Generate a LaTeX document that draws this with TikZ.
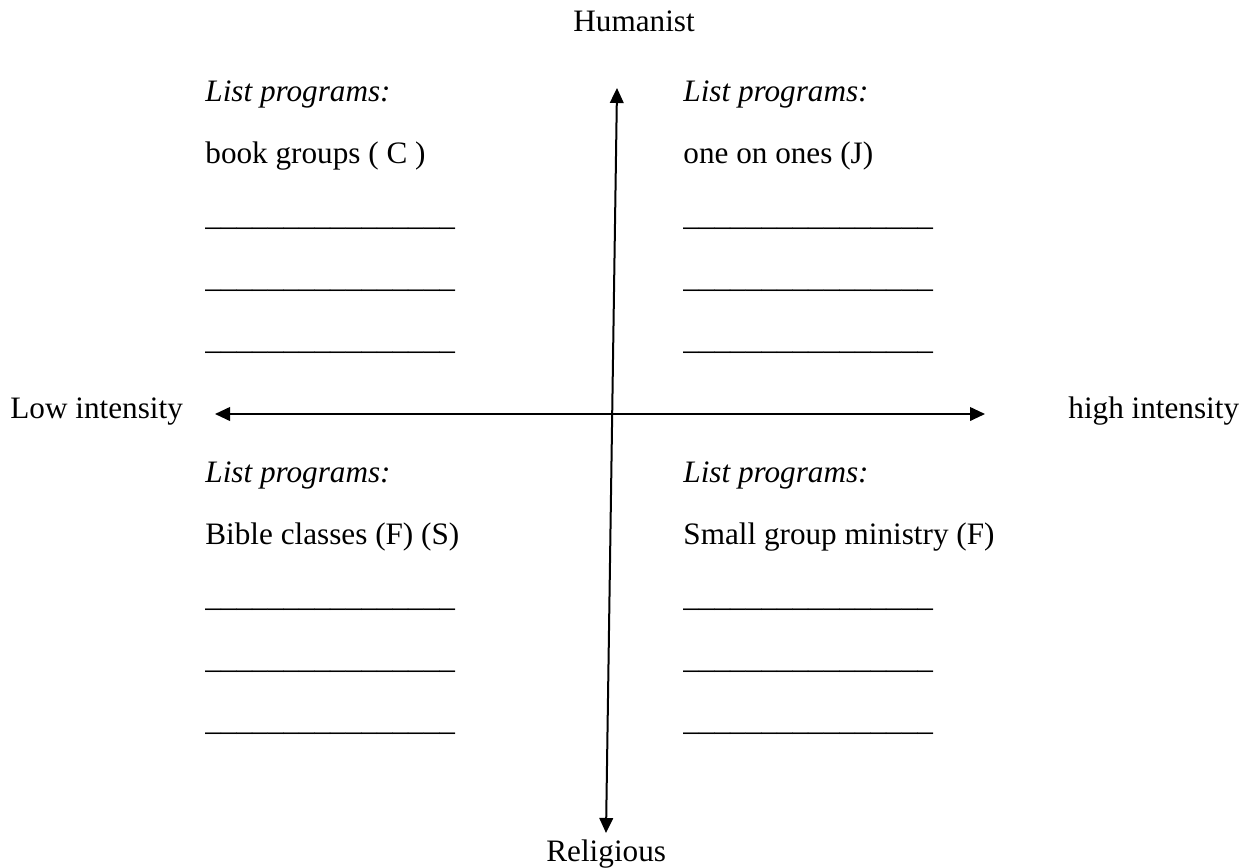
\documentclass[tikz,border=0pt]{standalone}
\usepackage{fontspec}
\setmainfont{Liberation Serif}
\usetikzlibrary{arrows.meta}
\begin{document}
\begin{tikzpicture}[x=0.5pt,y=-0.5pt,
  txt/.style={anchor=base west,inner sep=0pt,font=\fontsize{15.6}{18}\selectfont},
  axis/.style={line width=1pt,{Triangle[length=7.5pt,width=6.8pt]}-{Triangle[length=7.5pt,width=6.8pt]}}]
\useasboundingbox (0,0) rectangle (1251,867);
% axes
\coordinate (top) at (617,88);
\coordinate (bot) at (606,833);
\coordinate (left) at (215,414);
\coordinate (right) at (985,414);
\draw[axis] (bot) -- (top);
\draw[axis] (left) -- (right);
% axis labels
\node[txt] (hum) at (573,32) {Humanist};
\node[txt] (rel) at (546,861) {Religious};
\node[txt] (low) at (10,418) {Low intensity};
\node[txt] (high) at (1068,418) {high intensity};
% top-left
\node[txt] (tl0) at (205,101) {\itshape List programs:};
\node[txt] (tl1) at (205,163) {book groups ( C )};
\node[txt] (tl2) at (205,225) {\_\_\_\_\_\_\_\_\_\_\_\_\_\_\_\_};
\node[txt] (tl3) at (205,287) {\_\_\_\_\_\_\_\_\_\_\_\_\_\_\_\_};
\node[txt] (tl4) at (205,349) {\_\_\_\_\_\_\_\_\_\_\_\_\_\_\_\_};
% top-right
\node[txt] (tr0) at (683,101) {\itshape List programs:};
\node[txt] (tr1) at (683,163) {one on ones (J)};
\node[txt] (tr2) at (683,225) {\_\_\_\_\_\_\_\_\_\_\_\_\_\_\_\_};
\node[txt] (tr3) at (683,287) {\_\_\_\_\_\_\_\_\_\_\_\_\_\_\_\_};
\node[txt] (tr4) at (683,349) {\_\_\_\_\_\_\_\_\_\_\_\_\_\_\_\_};
% bottom-left
\node[txt] (bl0) at (205,482) {\itshape List programs:};
\node[txt] (bl1) at (205,544) {Bible classes (F) (S)};
\node[txt] (bl2) at (205,606) {\_\_\_\_\_\_\_\_\_\_\_\_\_\_\_\_};
\node[txt] (bl3) at (205,668) {\_\_\_\_\_\_\_\_\_\_\_\_\_\_\_\_};
\node[txt] (bl4) at (205,730) {\_\_\_\_\_\_\_\_\_\_\_\_\_\_\_\_};
% bottom-right
\node[txt] (br0) at (683,482) {\itshape List programs:};
\node[txt] (br1) at (683,544) {Small group ministry (F)};
\node[txt] (br2) at (683,606) {\_\_\_\_\_\_\_\_\_\_\_\_\_\_\_\_};
\node[txt] (br3) at (683,668) {\_\_\_\_\_\_\_\_\_\_\_\_\_\_\_\_};
\node[txt] (br4) at (683,730) {\_\_\_\_\_\_\_\_\_\_\_\_\_\_\_\_};
\end{tikzpicture}
\end{document}
